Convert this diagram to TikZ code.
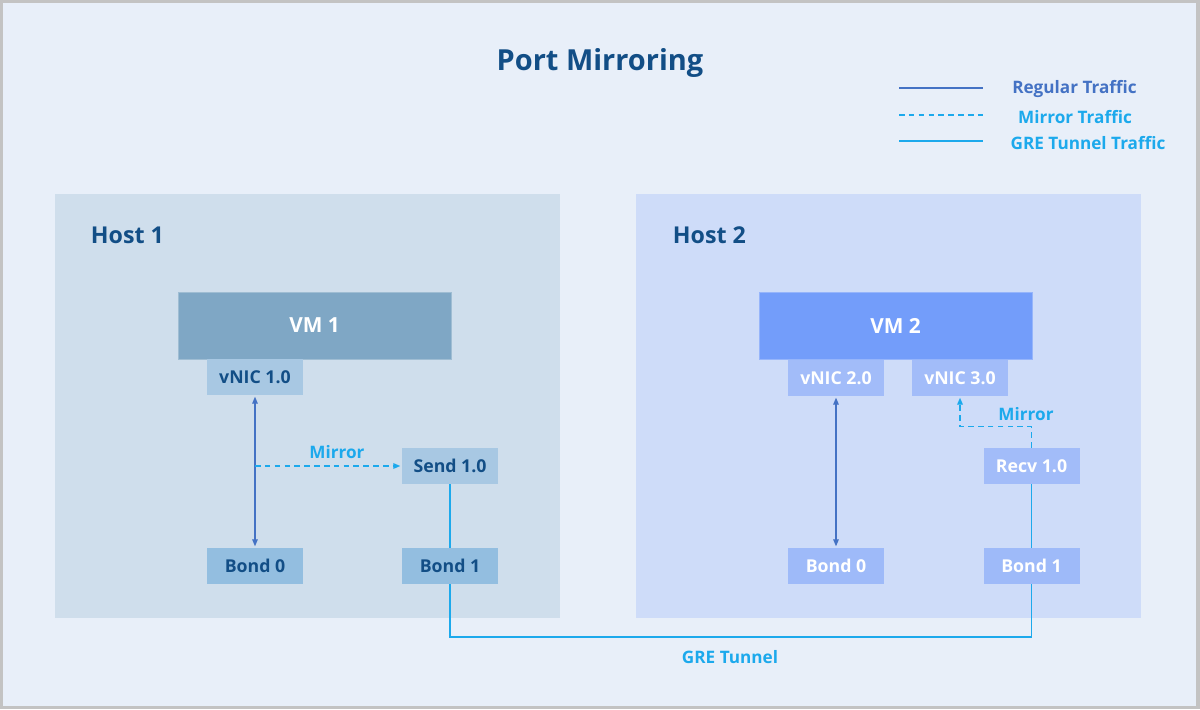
\documentclass[tikz,border=0pt]{standalone}
\usepackage{fontspec}
\setmainfont{Open Sans}
\usetikzlibrary{arrows.meta,positioning}

\definecolor{pagebg}{HTML}{E8EFF9}
\definecolor{frame}{HTML}{C3C3C3}
\definecolor{titleblue}{HTML}{124E86}
\definecolor{hostone}{HTML}{CFDEEC}
\definecolor{hosttwo}{HTML}{CEDCF9}
\definecolor{vmone}{HTML}{7FA7C5}
\definecolor{nicone}{HTML}{A8C8E3}
\definecolor{bondone}{HTML}{93BEE0}
\definecolor{vmtwo}{HTML}{739DFA}
\definecolor{nictwo}{HTML}{A2BCF9}
\definecolor{bondtwo}{HTML}{9EBAF9}
\definecolor{regblue}{HTML}{4472C4}
\definecolor{mirblue}{HTML}{1CA9EC}

\begin{document}
\begin{tikzpicture}[x=0.025cm, y=-0.025cm,
host/.style={rectangle, minimum width=12.625cm, minimum height=10.6cm, inner sep=0pt},
hostlabel/.style={anchor=west, font=\fontsize{16.5}{19}\selectfont\bfseries, text=titleblue},
vmbox/.style={rectangle, draw=#1!75!white, line width=0.4pt, fill=#1, minimum width=6.825cm, minimum height=1.675cm, text=white, font=\fontsize{14.8}{17}\selectfont\bfseries},
port/.style={rectangle, fill=#1, minimum width=2.4cm, minimum height=0.9cm, inner sep=0pt, font=\fontsize{12.6}{15}\selectfont\bfseries},
regular/.style={draw=regblue, line width=0.8pt},
mirror/.style={draw=mirblue, line width=1pt, dash pattern=on 4pt off 3pt},
gre/.style={draw=mirblue, line width=1.3pt},
tip/.style={-{Triangle[length=5pt, width=4pt]}},
tips/.style={{Triangle[length=5pt, width=4pt]}-{Triangle[length=5pt, width=4pt]}},
legend/.style={font=\fontsize{12.2}{14}\selectfont\bfseries},
label/.style={font=\fontsize{12.2}{14}\selectfont\bfseries, text=mirblue}
]
% page
\fill[frame] (0,0) rectangle (1200,709);
\fill[pagebg] (3,3) rectangle (1196,706);
\node[font=\fontsize{20.6}{24}\selectfont\bfseries, text=titleblue] (title) at (600,63) {Port Mirroring};

% legend
\coordinate (lga) at (899,88);  \coordinate (lgb) at (983,88);
\coordinate (lma) at (899,115); \coordinate (lmb) at (983,115);
\coordinate (lta) at (899,141); \coordinate (ltb) at (983,141);
\draw[regular] (lga) -- (lgb);
\draw[mirror] (lma) -- (lmb);
\draw[gre] (lta) -- (ltb);
\node[legend, text=regblue] (lgreg) at (1074.5,89) {Regular Traffic};
\node[legend, text=mirblue] (lgmir) at (1075,117) {Mirror Traffic};
\node[legend, text=mirblue] (lggre) at (1088,143) {GRE Tunnel Traffic};

% hosts
\node[host, fill=hostone] (host1) at (307.5,406) {};
\node[host, fill=hosttwo] (host2) at (888.5,406) {};
\node[hostlabel] (host1lbl) at (86,235) {Host 1};
\node[hostlabel] (host2lbl) at (668,235) {Host 2};

% host 1
\node[vmbox=vmone] (vm1) at (314.5,325.5) {VM 1};
\node[port=nicone, text=titleblue] (vnic10) at (255,377) {vNIC 1.0};
\node[port=nicone, text=titleblue] (send10) at (450,466) {Send 1.0};
\node[port=bondone, text=titleblue] (bond0a) at (255,566) {Bond 0};
\node[port=bondone, text=titleblue] (bond1a) at (450,566) {Bond 1};

% host 2
\node[vmbox=vmtwo] (vm2) at (895.5,325.5) {VM 2};
\node[port=nictwo, text=white] (vnic20) at (836,378) {vNIC 2.0};
\node[port=nictwo, text=white] (vnic30) at (960,378) {vNIC 3.0};
\node[port=nictwo, text=white] (recv10) at (1031.5,466) {Recv 1.0};
\node[port=bondtwo, text=white] (bond0b) at (836,566) {Bond 0};
\node[port=bondtwo, text=white] (bond1b) at (1031.5,566) {Bond 1};

% connectors
\draw[regular, tips, shorten <=1pt, shorten >=1pt] (vnic10) -- (bond0a);
\draw[regular, tips, shorten <=1pt, shorten >=1pt] (vnic20) -- (bond0b);
\coordinate (tap1) at (255,466);
\draw[mirror, tip, shorten >=1pt] (tap1) -- (send10.west);
\node[label] (mir1) at (337,452) {Mirror};
\draw[gre] (send10) -- (bond1a);
\draw[gre] (recv10) -- (bond1b);
\draw[mirror, tip, shorten >=1pt] (recv10.north) -- ++(0,-21) -| (vnic30.south);
\node[label] (mir2) at (1026,414) {Mirror};
\draw[gre] (bond1a.south) -- ++(0,53) -| (bond1b.south);
\node[label] (tunnel) at (730,657) {GRE Tunnel};
\end{tikzpicture}
\end{document}
